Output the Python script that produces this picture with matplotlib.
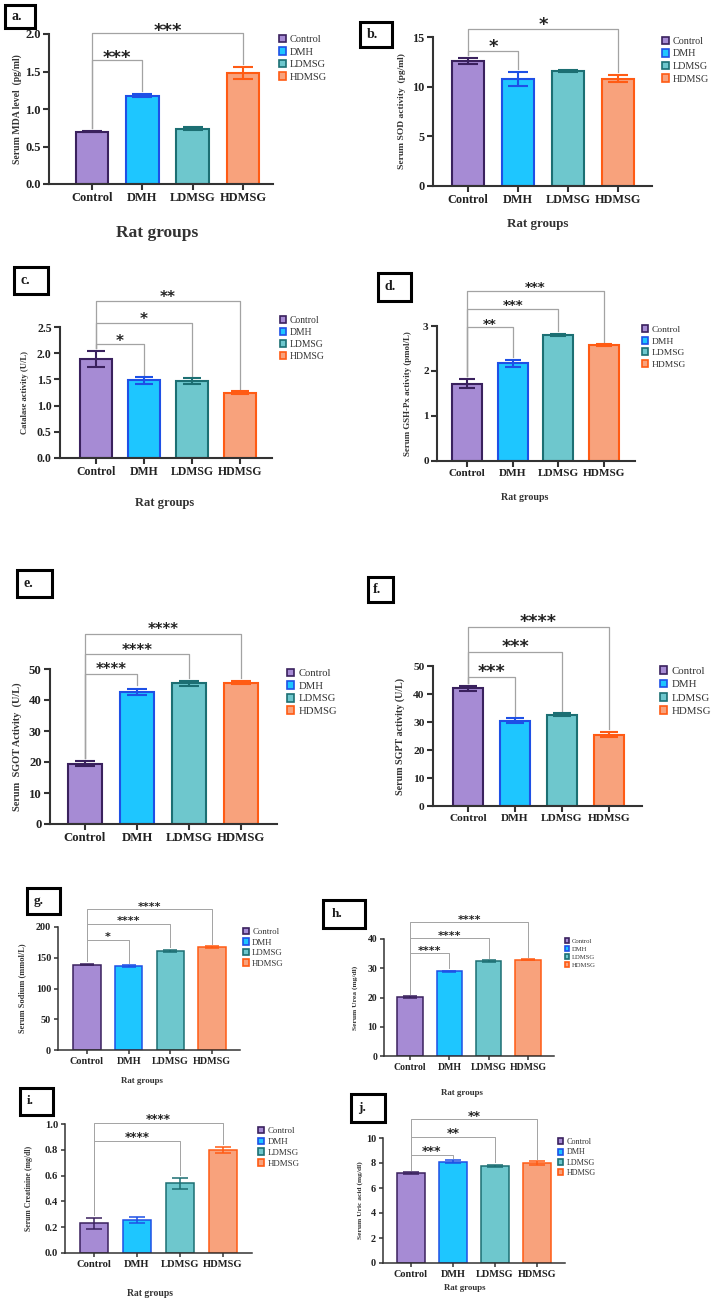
import matplotlib
matplotlib.use('Agg')
import matplotlib.pyplot as plt
from matplotlib.patches import Patch, Rectangle

W, H = 711, 1301

groups = ['Control', 'DMH', 'LDMSG', 'HDMSG']
fills = ['#A68BD4', '#1EC6FF', '#6EC7CD', '#F8A27C']
edges = ['#3A215E', '#1E50E6', '#1C6F73', '#FF5B14']

# values (mean, error)
mda = [0.70, 1.18, 0.74, 1.48]
mda_err = [0.01, 0.015, 0.015, 0.08]
sod = [12.6, 10.8, 11.6, 10.8]
sod_err = [0.3, 0.7, 0.08, 0.35]
catalase = [1.89, 1.48, 1.47, 1.25]
catalase_err = [0.15, 0.06, 0.05, 0.02]
gsh = [1.72, 2.17, 2.80, 2.57]
gsh_err = [0.1, 0.08, 0.03, 0.02]
sgot = [19.4, 42.7, 45.4, 45.6]
sgot_err = [0.8, 1.0, 0.8, 0.4]
sgpt = [42.0, 30.4, 32.6, 25.5]
sgpt_err = [1.0, 0.9, 0.5, 1.0]
sodium = [139, 136.5, 161, 167.5]
sodium_err = [1.5, 1.5, 2.0, 1.5]
urea = [20.1, 29.0, 32.4, 32.9]
urea_err = [0.3, 0.2, 0.3, 0.2]
creat = [0.23, 0.255, 0.54, 0.80]
creat_err = [0.045, 0.025, 0.045, 0.022]
uric = [7.18, 8.12, 7.76, 7.98]
uric_err = [0.08, 0.12, 0.11, 0.16]

# significance vs Control: (group index, stars, bracket height)
sig_a = [(1, '***', 1.66), (3, '***', 2.02)]
sig_b = [(1, '*', 13.6), (3, '*', 15.8)]
sig_c = [(1, '*', 2.17), (2, '*', 2.58), (3, '**', 3.0)]
sig_d = [(1, '**', 2.97), (2, '***', 3.38), (3, '***', 3.78)]
sig_e = [(1, '****', 48.4), (2, '****', 54.7), (3, '****', 61.3)]
sig_f = [(1, '***', 46.2), (2, '***', 55.1), (3, '****', 64.0)]
sig_g = [(1, '*', 179), (2, '****', 205), (3, '****', 229)]
sig_h = [(1, '****', 35.1), (2, '****', 40.4), (3, '****', 45.7)]
sig_i = [(2, '****', 0.87), (3, '****', 1.006)]
sig_j = [(1, '***', 8.64), (2, '**', 10.1), (3, '**', 11.5)]

panels = [
    dict(tag='a.', vals=mda, errs=mda_err, sig=sig_a, ymax=2.0, step=0.5, dec=1,
         ylabel='Serum MDA level  (pg/ml)',
         ax_px=(49, 273, 184, 34), cen=(92, 243), box=(5, 5, 35, 28),
         tfs=9, yfs=7, lfs=7.5, lsp=14.7, leg=(279, 42), sfs=13, sd=7,
         xl=(157, 233), xfs=12.5, ylx=17, cap=7, big=True),
    dict(tag='b.', vals=sod, errs=sod_err, sig=sig_b, ymax=15, step=5, dec=0,
         ylabel='Serum SOD activity  (pg/ml)',
         ax_px=(433, 652, 186, 37), cen=(468, 618), box=(360, 22, 392, 47),
         tfs=8.8, yfs=6.8, lfs=7.3, lsp=14.7, leg=(662, 44), sfs=13, sd=9,
         xl=(538, 224), xfs=9.4, ylx=402, cap=7, big=True),
    dict(tag='c.', vals=catalase, errs=catalase_err, sig=sig_c, ymax=2.5, step=0.5, dec=1,
         ylabel='Catalase activity (U/L)',
         ax_px=(60, 272, 458, 327), cen=(96, 240), box=(14, 267, 48, 294),
         tfs=8.5, yfs=6.2, lfs=6.9, lsp=13.8, leg=(280, 323), sfs=11, sd=7.5,
         xl=(165, 503), xfs=9, ylx=25, cap=6.5, big=True),
    dict(tag='d.', vals=gsh, errs=gsh_err, sig=sig_d, ymax=3, step=1, dec=0,
         ylabel='Serum GSH-Px activity (pmol/L)',
         ax_px=(437, 635, 461, 326), cen=(467, 604), box=(378, 273, 411, 301),
         tfs=8.1, yfs=6.4, lfs=6.8, lsp=13.3, leg=(642, 332), sfs=9.5, sd=7.3,
         xl=(525, 498), xfs=7.2, ylx=408, cap=6, big=True),
    dict(tag='e.', vals=sgot, errs=sgot_err, sig=sig_e, ymax=50, step=10, dec=0,
         ylabel='Serum  SGOT Activity  (U/L)',
         ax_px=(50, 277, 824, 669), cen=(85, 241), box=(17, 570, 52, 597),
         tfs=9.2, yfs=7.4, lfs=7.7, lsp=14.9, leg=(287, 676), sfs=10.5, sd=8,
         xl=None, xfs=0, ylx=17, cap=7, big=True),
    dict(tag='f.', vals=sgpt, errs=sgpt_err, sig=sig_f, ymax=50, step=10, dec=0,
         ylabel='Serum SGPT activity (U/L)',
         ax_px=(433, 642, 806, 666), cen=(468, 609), box=(368, 577, 393, 602),
         tfs=8.2, yfs=7.2, lfs=7.8, lsp=15.8, leg=(660, 674), sfs=12.5, sd=10,
         xl=None, xfs=0, ylx=400, cap=6.5, big=True),
    dict(tag='g.', vals=sodium, errs=sodium_err, sig=sig_g, ymax=200, step=50, dec=0,
         ylabel='Serum Sodium (mmol/L)',
         ax_px=(58, 240, 1050, 927), cen=(87, 212), box=(27, 888, 60, 914),
         tfs=7.3, yfs=6.0, lfs=6.3, lsp=12, leg=(243, 934), sfs=8, sd=6,
         xl=(142, 1081), xfs=6.4, ylx=22, cap=5, big=False),
    dict(tag='h.', vals=urea, errs=urea_err, sig=sig_h, ymax=40, step=10, dec=0,
         ylabel='Serum Urea (mg/dl)',
         ax_px=(384, 554, 1056, 939), cen=(410, 528), box=(323, 900, 365, 928),
         tfs=7.0, yfs=5.4, lfs=4.8, lsp=9.8, leg=(565, 943), sfs=8, sd=5.7,
         xl=(462, 1093), xfs=6.4, ylx=355, cap=5, big=False),
    dict(tag='i.', vals=creat, errs=creat_err, sig=sig_i, ymax=1.0, step=0.2, dec=1,
         ylabel='Serum Creatinine (mg/dl)',
         ax_px=(65, 252, 1253, 1124), cen=(94, 223), box=(20, 1088, 53, 1115),
         tfs=7.6, yfs=5.6, lfs=6.4, lsp=12.4, leg=(258, 1133), sfs=8.5, sd=6.7,
         xl=(150, 1294), xfs=6.9, ylx=29, cap=5.5, big=False),
    dict(tag='j.', vals=uric, errs=uric_err, sig=sig_j, ymax=10, step=2, dec=0,
         ylabel='Serum Uric acid (mg/dl)',
         ax_px=(383, 565, 1263, 1138), cen=(411, 537), box=(351, 1094, 385, 1122),
         tfs=7.4, yfs=5.4, lfs=5.9, lsp=11.3, leg=(558, 1144), sfs=9, sd=6.7,
         xl=(465, 1288), xfs=6.3, ylx=360, cap=5.5, big=False),
]

serif = 'Liberation Serif'
fig = plt.figure(figsize=(W / 100, H / 100), dpi=100)


def fx(px):
    return px / W


def fy(py):
    return 1 - py / H


for p in panels:
    x0, x1, yb, yt = p['ax_px']
    ax = fig.add_axes([fx(x0), fy(yb), (x1 - x0) / W, (yb - yt) / H])
    c0, c3 = p['cen']
    sp = (c3 - c0) / 3
    ax.set_xlim((x0 - c0) / sp, 3 + (x1 - c3) / sp)
    ax.set_ylim(0, p['ymax'])
    lw = 1.5 if p['big'] else 1.1

    xs = range(len(groups))
    ax.bar(xs, p['vals'], width=0.65, color=fills, edgecolor=edges, linewidth=lw, zorder=2)
    for i in xs:
        ax.errorbar(i, p['vals'][i], yerr=p['errs'][i], color=edges[i], capsize=p['cap'],
                    elinewidth=lw, capthick=lw, zorder=3, clip_on=False)

    # significance brackets
    gap = 0.02 * p['ymax']
    ctop = p['vals'][0] + p['errs'][0] + gap
    for t, stars, lev in p['sig']:
        ttop = p['vals'][t] + p['errs'][t] + gap
        ax.plot([0, 0, t, t], [ctop, lev, lev, ttop], color='#a3a3a3',
                lw=0.9 if p['big'] else 0.7, clip_on=False, zorder=1)
        off = (p['sd'] - 0.575 * p['sfs'] * 100 / 72) * 0.72
        ax.annotate(stars, xy=(t / 2, lev), xytext=(0, off), textcoords='offset points',
                    ha='center', va='baseline', fontsize=p['sfs'], fontweight='bold',
                    family='DejaVu Sans', color='#222222', annotation_clip=False)

    for s in ['top', 'right']:
        ax.spines[s].set_visible(False)
    for s in ['left', 'bottom']:
        ax.spines[s].set_color('#333333')
        ax.spines[s].set_linewidth(lw)
    ax.set_xticks(list(xs))
    ax.set_xticklabels(groups, fontsize=p['tfs'], fontweight='bold', family=serif, color='#222222')
    n = int(round(p['ymax'] / p['step']))
    ticks = [k * p['step'] for k in range(n + 1)]
    ax.set_yticks(ticks)
    ax.set_yticklabels([f"{v:.{p['dec']}f}" for v in ticks], fontsize=p['tfs'],
                       fontweight='bold', family=serif, color='#222222')
    ax.tick_params(direction='out', length=4 if p['big'] else 3, width=lw, color='#333333', pad=2)

    ax.set_ylabel(p['ylabel'], fontsize=p['yfs'], fontweight='bold', family=serif,
                  color='#333333', va='center')
    ax.yaxis.set_label_coords((p['ylx'] - x0) / (x1 - x0), 0.5)
    if p['xl']:
        ax.set_xlabel('Rat groups', fontsize=p['xfs'], fontweight='bold', family=serif,
                      color='#333333', va='center')
        ax.xaxis.set_label_coords((p['xl'][0] - x0) / (x1 - x0), (yb - p['xl'][1]) / (yb - yt))

    # legend
    fs_px = p['lfs'] * 100 / 72
    handles = [Patch(facecolor=fills[i], edgecolor=edges[i], linewidth=1.2) for i in xs]
    ax.legend(handles, groups, loc='upper left',
              bbox_to_anchor=(fx(p['leg'][0]), fy(p['leg'][1] - p['lsp'] / 2)),
              bbox_transform=fig.transFigure, frameon=False, borderpad=0, borderaxespad=0,
              handlelength=0.65, handleheight=0.75, handletextpad=0.4,
              labelspacing=max(p['lsp'] / fs_px - 1.12, 0.05),
              prop={'family': serif, 'size': p['lfs']}, labelcolor='#333333')

    # panel tag box
    bx0, by0, bx1, by1 = p['box']
    fig.add_artist(Rectangle((fx(bx0), fy(by1)), (bx1 - bx0) / W, (by1 - by0) / H,
                             transform=fig.transFigure, fill=False, lw=2.2, ec='black'))
    fig.text(fx(bx0 + (bx1 - bx0) * 0.2), fy((by0 + by1) / 2), p['tag'], ha='left', va='center',
             fontsize=10 if p['big'] else 9.5, fontweight='bold', family=serif, color='#1a1a1a')

fig.savefig('out.png', dpi=100)
